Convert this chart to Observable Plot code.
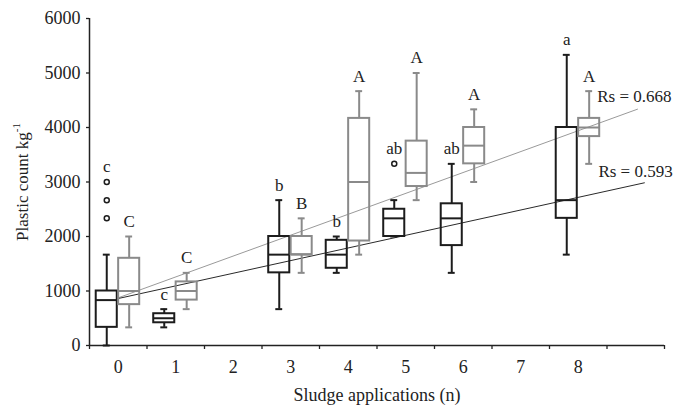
<!DOCTYPE html>
<html>
<head>
<meta charset="utf-8">
<script src="https://cdn.jsdelivr.net/npm/d3@7"></script>
<script src="https://cdn.jsdelivr.net/npm/@observablehq/plot@0.6"></script>
<style>
  html, body { margin: 0; padding: 0; background: #fff; }
</style>
</head>
<body>
<div id="chart"></div>
<script>
// ---- data ----
const cats = [0, 1, 3, 4, 5, 6, 8];
const xTickLabels = [0, 1, 2, 3, 4, 5, 6, 7, 8];
const yTicks = [0, 1000, 2000, 3000, 4000, 5000, 6000];

// black boxes (first series)
const blackMin = [0, 333, 667, 1333, 2000, 1333, 1667];
const blackQ1  = [333, 417, 1333, 1417, 2000, 1833, 2333];
const blackMed = [833, 500, 1667, 1667, 2333, 2333, 2667];
const blackQ3  = [1000, 583, 2000, 1930, 2500, 2600, 4000];
const blackMax = [1667, 667, 2667, 2000, 2667, 3333, 5333];
const blackLetters = ["c", "c", "b", "b", "ab", "ab", "a"];
const blackOutCat = [0, 0, 0, 5];
const blackOutVal = [3000, 2667, 2333, 3333];

// grey boxes (second series)
const greyMin = [333, 667, 1333, 1667, 2667, 3000, 3333];
const greyQ1  = [750, 833, 1667, 1917, 2917, 3333, 3833];
const greyMed = [1000, 1000, 1667, 3000, 3167, 3667, 4000];
const greyQ3  = [1600, 1167, 2000, 4167, 3750, 4000, 4167];
const greyMax = [2000, 1333, 2333, 4667, 5000, 4333, 4667];
const greyLetters = ["C", "C", "B", "A", "A", "A", "A"];

// regression lines (end points)
const blackLineX = [0, 9.15];
const blackLineY = [862, 2985];
const greyLineX = [0, 9.03];
const greyLineY = [875, 4336];
const rsLabels = ["Rs = 0.668", "Rs = 0.593"];
const rsX = [8.33, 8.35];
const rsY = [4570, 3200];

// ---- build tables ----
const BLACK = "#1c1c1c", GREY = "#8a8a8a", TEXT = "#222";
const OFF_B = -0.2, OFF_G = 0.19, HALF = 0.183, CAP = 0.06;

function series(off, mn, q1, md, q3, mx, letters, outCat, outVal) {
  return cats.map((c, i) => {
    const outs = outCat.map((oc, j) => oc === c ? outVal[j] : null).filter(v => v != null);
    return {pos: c + off, min: mn[i], q1: q1[i], med: md[i], q3: q3[i], max: mx[i],
            letter: letters[i], top: Math.max(mx[i], ...outs)};
  });
}
const black = series(OFF_B, blackMin, blackQ1, blackMed, blackQ3, blackMax, blackLetters, blackOutCat, blackOutVal);
const grey = series(OFF_G, greyMin, greyQ1, greyMed, greyQ3, greyMax, greyLetters, [], []);
const blackOut = blackOutCat.map((c, i) => ({pos: c + OFF_B, v: blackOutVal[i]}));
const blackLine = blackLineX.map((x, i) => ({x, y: blackLineY[i]}));
const greyLine = greyLineX.map((x, i) => ({x, y: greyLineY[i]}));
const rs = rsLabels.map((t, i) => ({t, x: rsX[i], y: rsY[i]}));
const boundaries = d3.range(-0.5, 10, 1);

function boxMarks(data, color) {
  return [
    Plot.ruleX(data, {x: "pos", y1: "min", y2: "q1", stroke: color, strokeWidth: 2}),
    Plot.ruleX(data, {x: "pos", y1: "q3", y2: "max", stroke: color, strokeWidth: 2}),
    Plot.ruleY(data, {y: "min", x1: d => d.pos - CAP, x2: d => d.pos + CAP, stroke: color, strokeWidth: 2}),
    Plot.ruleY(data, {y: "max", x1: d => d.pos - CAP, x2: d => d.pos + CAP, stroke: color, strokeWidth: 2}),
    Plot.rect(data, {x1: d => d.pos - HALF, x2: d => d.pos + HALF, y1: "q1", y2: "q3", fill: "none", stroke: color, strokeWidth: 2}),
    Plot.ruleY(data, {y: "med", x1: d => d.pos - HALF, x2: d => d.pos + HALF, stroke: color, strokeWidth: 2}),
    Plot.text(data, {x: "pos", y: "top", text: "letter", dy: -15, fill: TEXT, fontSize: 17})
  ];
}

const chart = Plot.plot({
  width: 675,
  height: 406,
  marginLeft: 89,
  marginRight: 11,
  marginTop: 18,
  marginBottom: 61,
  x: {domain: [-0.5, 9.5]},
  y: {domain: [0, 6000]},
  style: {fontFamily: "'Liberation Serif', 'Times New Roman', serif", fontSize: "17px", color: TEXT, background: "#fff"},
  marks: [
    Plot.axisY({ticks: yTicks, tickSize: 3, tickPadding: 6, tickFormat: d => String(d), label: null,
                stroke: TEXT, strokeWidth: 1.3, fontSize: 18}),
    Plot.axisX({ticks: boundaries, tickSize: 4, tickFormat: () => "", label: null, stroke: TEXT, strokeWidth: 1.3}),
    Plot.axisX({ticks: xTickLabels, tickSize: 0, tickPadding: 15, tickFormat: d => String(d), fontSize: 18,
                label: "Sludge applications (n)", labelAnchor: "center", labelArrow: "none", labelOffset: 55}),
    Plot.ruleX([-0.5], {stroke: TEXT, strokeWidth: 1.5}),
    Plot.ruleY([0], {stroke: TEXT, strokeWidth: 1.5}),
    Plot.line(greyLine, {x: "x", y: "y", stroke: "#9a9a9a", strokeWidth: 1}),
    Plot.line(blackLine, {x: "x", y: "y", stroke: "#2a2a2a", strokeWidth: 1}),
    ...boxMarks(black, BLACK),
    ...boxMarks(grey, GREY),
    Plot.dot(blackOut, {x: "pos", y: "v", r: 2.5, stroke: BLACK, strokeWidth: 1.5, fill: "#fff"}),
    Plot.text(rs, {x: "x", y: "y", text: "t", textAnchor: "start", fill: TEXT, fontSize: 17})
  ]
});

// y-axis title with superscript
const svg = d3.select(chart);
const t = svg.append("text")
  .attr("transform", "translate(28,182) rotate(-90)")
  .attr("text-anchor", "middle")
  .attr("fill", TEXT)
  .attr("font-size", 17);
t.append("tspan").text("Plastic count kg");
t.append("tspan").attr("font-size", 11).attr("dy", "-0.7em").text("-1");

document.getElementById("chart").appendChild(chart);
</script>
</body>
</html>
